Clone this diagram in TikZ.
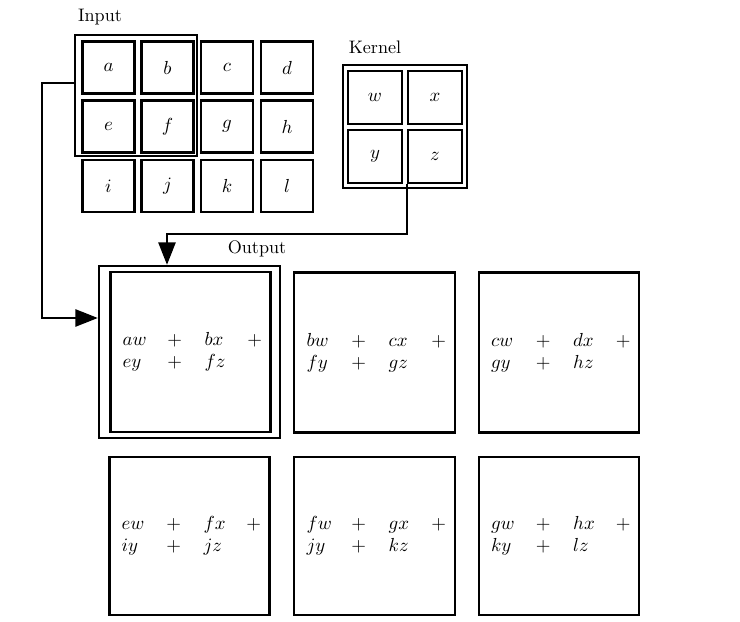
\documentclass[tikz,border=0pt]{standalone}
\usetikzlibrary{arrows.meta}
\newlength\pxu
\setlength\pxu{0.58pt}
\newcommand\convterms[4]{\leavevmode\rlap{$#1$}\hspace{30.2pt}\makebox[0pt]{$+$}\hspace{17.4pt}\rlap{$#2$}\hspace{29pt}\makebox[0pt]{$+$}\\
\leavevmode\rlap{$#3$}\hspace{30.2pt}\makebox[0pt]{$+$}\hspace{17.4pt}\rlap{$#4$}}
\begin{document}
\begin{tikzpicture}[x=0.58pt,y=-0.58pt,
  every node/.style={font=\fontsize{10.5}{12.8}\selectfont},
  cell/.style={draw,line width=1.4pt,minimum width=52\pxu,minimum height=52\pxu,inner sep=0pt},
  kcell/.style={cell,minimum width=54\pxu,minimum height=53\pxu},
  hlbox/.style={draw,line width=1.4pt,inner sep=0pt},
  outbox/.style={draw,line width=1.4pt,minimum width=160\pxu,minimum height=160\pxu,
    text width=78.8pt,inner xsep=7pt,inner ysep=0pt,align=left},
  lbl/.style={inner sep=0pt},
  conn/.style={line width=1.1pt,-{Triangle[length=13pt,width=10pt]}}]
\useasboundingbox (0,0) rectangle (740,622);
% labels
\node[lbl] (inlabel) at (100,17) {Input};
\node[lbl] (klabel) at (375,47) {Kernel};
\node[lbl] (outlabel) at (257,249) {Output};
% input grid
\node[cell] (a) at (108.5,67.5) {$a$};
\node[cell] (b) at (167.5,67.5) {$b$};
\node[cell] (c) at (227,67.5) {$c$};
\node[cell] (d) at (287,67.5) {$d$};
\node[cell] (e) at (108.5,126.5) {$e$};
\node[cell] (f) at (167.5,126.5) {$f$};
\node[cell] (g) at (227,126.5) {$g$};
\node[cell] (h) at (287,126.5) {$h$};
\node[cell] (i) at (108.5,186) {$i$};
\node[cell] (j) at (167.5,186) {$j$};
\node[cell] (k) at (227,186) {$k$};
\node[cell] (l) at (287,186) {$l$};
\node[hlbox,minimum width=122\pxu,minimum height=121\pxu] (inhl) at (136,95.5) {};
% kernel
\node[kcell] (w) at (375,97.5) {$w$};
\node[kcell] (x) at (435,97.5) {$x$};
\node[kcell] (y) at (375,156.5) {$y$};
\node[kcell] (z) at (435,156.5) {$z$};
\node[hlbox,minimum width=124\pxu,minimum height=123\pxu] (khl) at (405,126.5) {};
% outputs
\node[hlbox,minimum width=181\pxu,minimum height=172\pxu] (o11o) at (189.5,352) {};
\node[outbox,minimum width=159\pxu] (o11) at (190.5,352) {\convterms{aw}{bx}{ey}{fz}};
\node[outbox,minimum width=161\pxu] (o12) at (374.5,352.5) {\convterms{bw}{cx}{fy}{gz}};
\node[outbox] (o13) at (559,352.5) {\convterms{cw}{dx}{gy}{hz}};
\node[outbox,minimum height=158\pxu] (o21) at (189.5,536) {\convterms{ew}{fx}{iy}{jz}};
\node[outbox,minimum width=161\pxu,minimum height=158\pxu] (o22) at (374.5,536) {\convterms{fw}{gx}{jy}{kz}};
\node[outbox,minimum height=158\pxu] (o23) at (559,536) {\convterms{gw}{hx}{ky}{lz}};
% connectors
\coordinate (k2) at (167,234);
\draw[conn] (z.south west) |- (k2) -- (k2 |- o11o.north);
\coordinate (i1) at (42,83);
\coordinate (i2) at (0,318);
\draw[conn] (inhl.west |- i1) -- (i1) |- (o11o.west |- i2);
\end{tikzpicture}
\end{document}
